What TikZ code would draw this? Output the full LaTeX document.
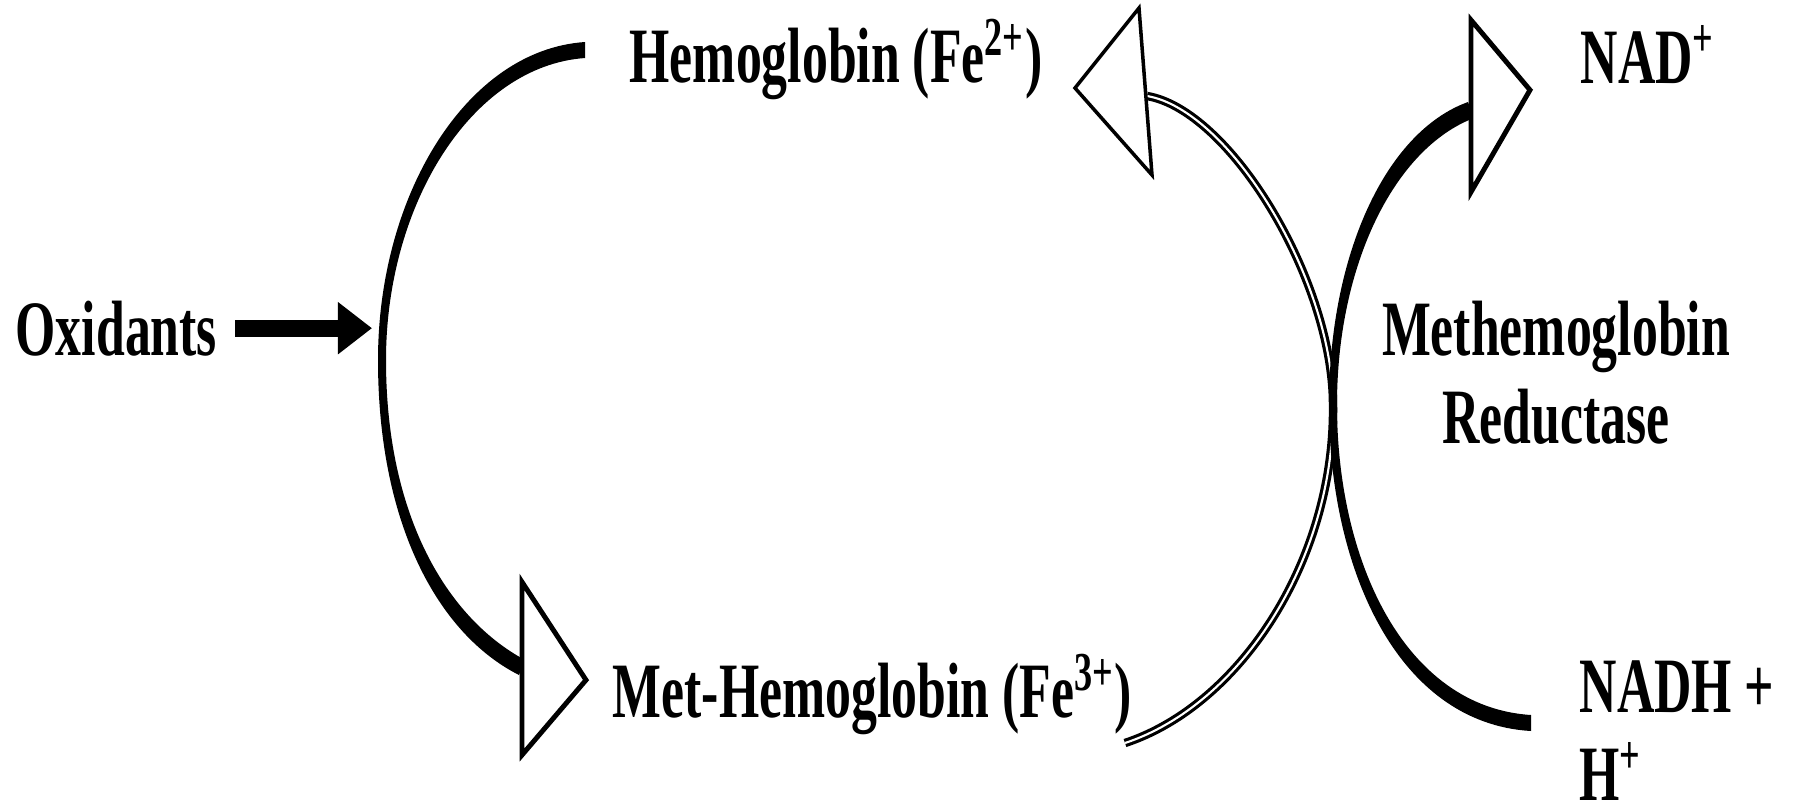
\documentclass[tikz,border=0pt]{standalone}
\usepackage{fontspec}
\setmainfont[FakeStretch=0.66]{Liberation Serif}
\usetikzlibrary{arrows.meta, calc}
\tikzset{
  txt/.style={font=\fontsize{22.3}{25}\selectfont\bfseries, inner sep=0pt},
  opentip/.style={draw=black, fill=white, line width=1.4pt, line join=miter},
  thinpath/.style={double, double distance=0.6pt, line width=0.9pt},
  pusharrow/.style={line width=4.8pt, -{Triangle[length=3.4mm, width=5mm]}}
}

\begin{document}
\begin{tikzpicture}[x=0.01cm, y=-0.01cm]
  \useasboundingbox (0,0) rectangle (1796,808);
  % --- labels ------------------------------------------------------
  \node[txt, anchor=base west] (ox) at (15,355) {Oxidants};
  \node[txt, anchor=base west] (hb) at (629,82) {Hemoglobin (Fe\textsuperscript{2+})};
  \node[txt, anchor=base west] (methb) at (612,717) {Met-Hemoglobin (Fe\textsuperscript{3+})};
  \node[txt, anchor=base west] (nad) at (1580,83) {NAD\textsuperscript{+}};
  \node[txt, anchor=base west, align=left] (nadh) at (1579,800) {NADH +\\H\textsuperscript{+}};
  \node[txt, anchor=base, align=center] (enz) at (1556,443) {Methemoglobin\\Reductase};
  % --- oxidants push ----------------------------------------------
  \coordinate (oxtip) at (372,332);
  \draw[pusharrow] ([xshift=5pt]ox.east) -- (ox.east -| oxtip);
  % --- oxidation arc (thick ends, thin middle) --------------------
  \fill (585,42) .. controls (466,50) and (378,196) .. (378,360)
        .. controls (378,524) and (438,634) .. (519,675)
        -- (525,660)
        .. controls (447,618) and (386,516) .. (386,360)
        .. controls (386,204) and (472,66) .. (585,58) -- cycle;
  \filldraw[opentip] (522,582) -- (586,680) -- (522,755) -- cycle;
  % --- reduction arc (double line) --------------------------------
  \draw[thinpath] (1125,743) .. controls (1240,705) and (1335,560) .. (1333,405)
        .. controls (1333,280) and (1230,110) .. (1147,96);
  \filldraw[opentip, line width=1pt] (1139,8) -- (1075,88) -- (1152,175) -- cycle;
  % --- NADH -> NAD+ arc -------------------------------------------
  \fill (1531,731) .. controls (1396,723) and (1329,566) .. (1329,405)
        .. controls (1329,256) and (1385,132) .. (1468,102)
        -- (1474,118)
        .. controls (1395,148) and (1337,264) .. (1337,405)
        .. controls (1337,560) and (1404,707) .. (1531,715) -- cycle;
  \filldraw[opentip] (1471,20) -- (1530,90) -- (1471,192) -- cycle;
\end{tikzpicture}
\end{document}
